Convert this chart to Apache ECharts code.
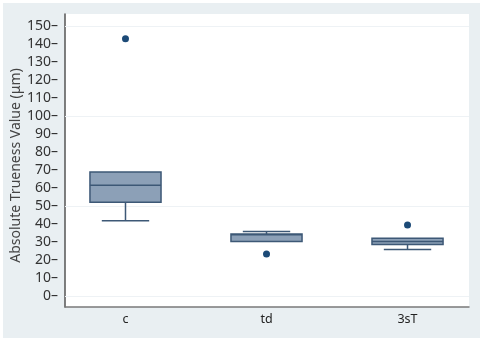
<!DOCTYPE html>
<html>
<head>
<meta charset="utf-8">
<script src="https://cdn.jsdelivr.net/npm/echarts@6/dist/echarts.min.js"></script>
<style>
  html, body { margin: 0; padding: 0; background: #fff; }
  #main { width: 484px; height: 342px; }
</style>
</head>
<body>
<div id="main"></div>
<script>
// box statistics
var categories = ['c', 'td', '3sT'];
var whiskerLow = [41.7, 30.2, 25.7];
var q1 = [52.0, 30.2, 28.5];
var medians = [61.5, 34.0, 30.2];
var q3 = [68.9, 34.4, 32.0];
var whiskerHigh = [68.9, 35.8, 32.0];
var outliers = [[0, 143], [1, 23.2], [2, 39.4]];
var yTicks = [0, 10, 20, 30, 40, 50, 60, 70, 80, 90, 100, 110, 120, 130, 140, 150];
var gridValues = [0, 50, 100, 150];

var boxData = [];
for (var i = 0; i < categories.length; i++) {
    boxData.push([i, whiskerLow[i], q1[i], medians[i], q3[i], whiskerHigh[i]]);
}

var BOX_HALF = 0.252;   // in category units
var CAP_HALF = 0.168;
var STROKE = '#3d5876';

function renderBox(params, api) {
    var x = api.value(0);
    var lo = api.value(1), b1 = api.value(2), md = api.value(3), b3 = api.value(4), hi = api.value(5);
    var tl = api.coord([x - BOX_HALF, b3]);
    var br = api.coord([x + BOX_HALF, b1]);
    var mL = api.coord([x - BOX_HALF, md]);
    var mR = api.coord([x + BOX_HALF, md]);
    var cHi = api.coord([x, hi]);
    var cLo = api.coord([x, lo]);
    var capL = api.coord([x - CAP_HALF, lo]);
    var capR = api.coord([x + CAP_HALF, lo]);
    var capLh = api.coord([x - CAP_HALF, hi]);
    var capRh = api.coord([x + CAP_HALF, hi]);
    var line = { stroke: STROKE, lineWidth: 1.5 };
    var children = [
        { type: 'rect', shape: { x: tl[0], y: tl[1], width: br[0] - tl[0], height: br[1] - tl[1] },
          style: { fill: '#8ca0b7', stroke: STROKE, lineWidth: 1.5 } },
        { type: 'line', shape: { x1: mL[0], y1: mL[1], x2: mR[0], y2: mR[1] }, style: line }
    ];
    if (hi > b3) {
        children.push({ type: 'line', shape: { x1: cHi[0], y1: tl[1], x2: cHi[0], y2: cHi[1] }, style: line });
        children.push({ type: 'line', shape: { x1: capLh[0], y1: capLh[1], x2: capRh[0], y2: capRh[1] }, style: line });
    }
    if (lo < b1) {
        children.push({ type: 'line', shape: { x1: cLo[0], y1: br[1], x2: cLo[0], y2: cLo[1] }, style: line });
        children.push({ type: 'line', shape: { x1: capL[0], y1: capL[1], x2: capR[0], y2: capR[1] }, style: line });
    }
    return { type: 'group', children: children };
}

var myChart = echarts.init(document.getElementById('main'));
var option = {
    backgroundColor: '#fff',
    animation: false,
    graphic: {
        elements: [{
            type: 'rect',
            z: -10,
            shape: { x: 3, y: 3, width: 477, height: 335 },
            style: { fill: '#e9eff2' }
        }]
    },
    grid: {
        left: 65, top: 14, width: 404, height: 293,
        outerBoundsMode: 'none',
        containLabel: false,
        show: true, backgroundColor: '#fff', borderWidth: 0
    },
    xAxis: {
        type: 'value',
        min: -0.429,
        max: 2.436,
        splitLine: { show: false },
        axisTick: { show: false },
        axisLine: { onZero: false, lineStyle: { color: '#7a7a7a', width: 1.5 } },
        axisLabel: {
            customValues: [0, 1, 2],
            formatter: function (v) { return categories[Math.round(v)]; },
            color: '#222',
            fontFamily: 'Noto Sans',
            fontSize: 12.5,
            margin: 6
        }
    },
    yAxis: {
        type: 'value',
        min: -6.2,
        max: 156.7,
        name: 'Absolute Trueness Value (\u03bcm)',
        nameLocation: 'middle',
        nameGap: 42,
        nameMoveOverlap: false,
        nameTextStyle: { color: '#444', fontFamily: 'Noto Sans', fontSize: 14, padding: [0, 10, 0, 0] },
        splitLine: { show: false },
        axisTick: { show: false },
        axisLine: { show: true, onZero: false, lineStyle: { color: '#555', width: 1.5 } },
        axisLabel: {
            customValues: yTicks,
            formatter: function (v) { return v + '\u2013'; },
            color: '#333',
            fontFamily: 'Noto Sans',
            fontSize: 14,
            margin: 7
        }
    },
    series: [{
        type: 'custom',
        renderItem: renderBox,
        data: boxData,
        z: 3
    }, {
        type: 'scatter',
        data: outliers,
        symbolSize: 7,
        itemStyle: { color: '#1c4a77', opacity: 1 },
        z: 4,
        markLine: {
            silent: true,
            symbol: 'none',
            label: { show: false },
            lineStyle: { color: '#eef2f5', width: 1, type: 'solid' },
            data: gridValues.map(function (v) { return { yAxis: v }; }),
            z: 1
        }
    }]
};
myChart.setOption(option);
</script>
</body>
</html>
